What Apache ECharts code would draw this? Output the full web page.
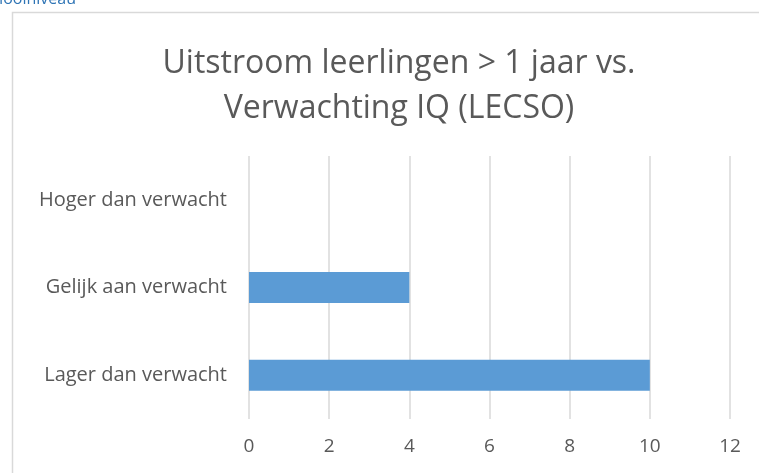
<!DOCTYPE html>
<html><head><meta charset="utf-8">
<script src="https://cdn.jsdelivr.net/npm/echarts@6/dist/echarts.min.js"></script>
<style>html,body{margin:0;padding:0;background:#fff}#c{width:759px;height:473px}</style>
</head><body><div id="c"></div>
<script>
const titleText = 'Uitstroom leerlingen > 1 jaar vs.\nVerwachting IQ (LECSO)';
const categories = ['Lager dan verwacht', 'Gelijk aan verwacht', 'Hoger dan verwacht'];
const values = [10, 4, 0];
const xTicks = [0, 2, 4, 6, 8, 10, 12];

const chart = echarts.init(document.getElementById('c'), null, {renderer: 'canvas'});
chart.setOption({
  animation: false,
  backgroundColor: '#fff',
  title: {
    text: titleText,
    left: 394, top: 36, textAlign: 'center',
    textStyle: {fontFamily: 'Open Sans', fontSize: 32, fontWeight: 'normal', color: '#595959', lineHeight: 45}
  },
  graphic: [
    {type: 'rect', shape: {x: 12.5, y: 12.5, width: 800, height: 500}, style: {fill: 'none', stroke: '#d9d9d9', lineWidth: 1.5}, silent: true},
    {type: 'text', x: 76, y: 7, style: {text: 'Schoolniveau', fontFamily: 'Open Sans', fontSize: 16, fill: '#2e74b5', align: 'right', verticalAlign: 'bottom'}}
  ],
  grid: {left: 249, right: 29, top: 156, bottom: 54, containLabel: false},
  xAxis: {
    type: 'value', min: 0, max: 12, interval: 2,
    axisLine: {show: false}, axisTick: {show: false},
    splitLine: {show: true, lineStyle: {color: '#d9d9d9', width: 1.5}},
    axisLabel: {fontFamily: 'Open Sans', fontSize: 19, color: '#595959', margin: 18,
      formatter: v => xTicks.includes(v) ? String(v) : ''}
  },
  yAxis: {
    type: 'category', data: categories,
    axisLine: {show: false}, axisTick: {show: false},
    axisLabel: {fontFamily: 'Open Sans', fontSize: 20, color: '#595959', margin: 22}
  },
  series: [{
    type: 'bar', data: values, barWidth: 31,
    itemStyle: {color: '#5b9bd5'}
  }]
});
</script></body></html>
